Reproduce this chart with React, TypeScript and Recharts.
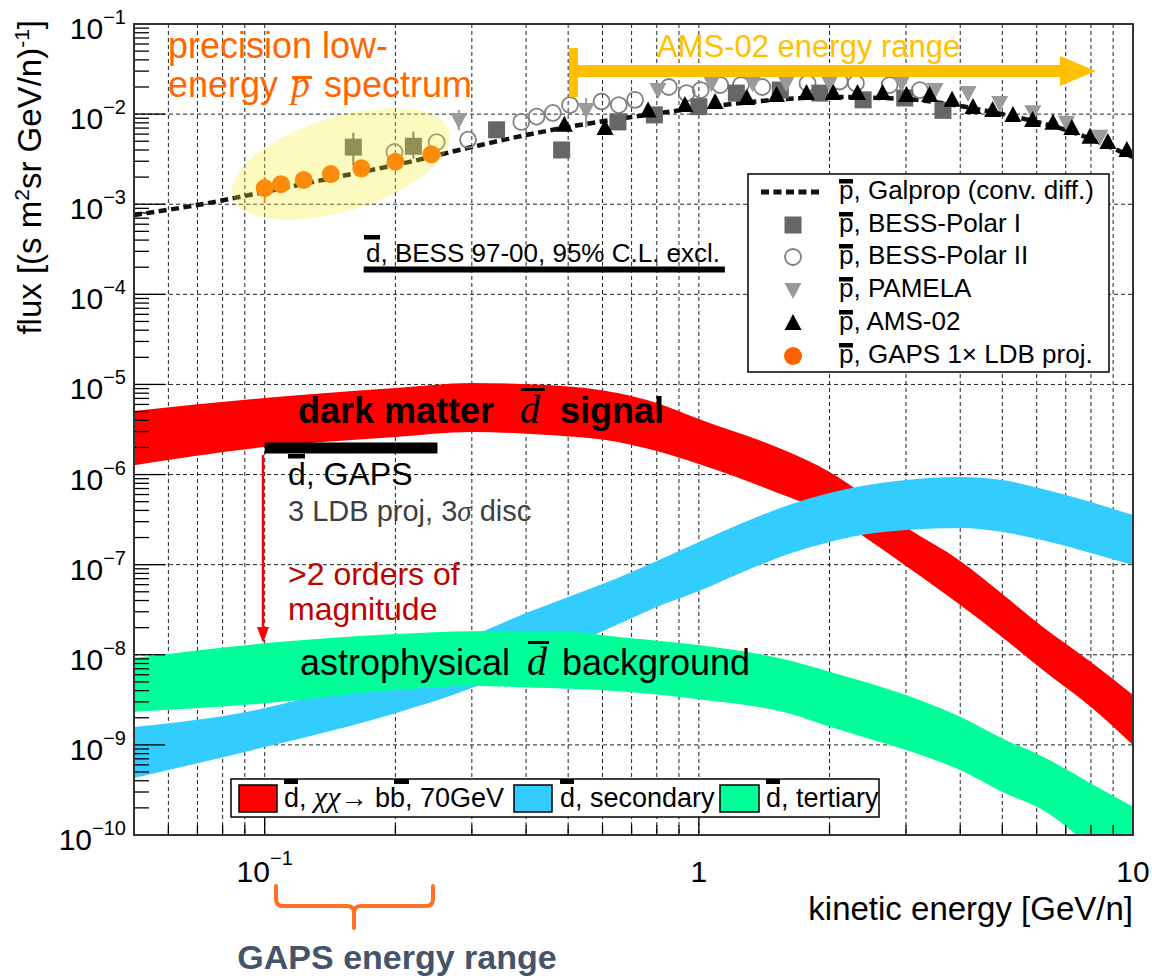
import React from "react";
import { ComposedChart, XAxis, YAxis, CartesianGrid, Area, Line, Scatter, ErrorBar } from "recharts";

const W = 1152;
const H = 978;
const FONT = "'Liberation Sans', Arial, Helvetica, sans-serif";
const SERIF = "'Liberation Serif', 'DejaVu Serif', serif";

// ---------- tick values ----------
const xTickValues = [0.06, 0.07, 0.08, 0.09, 0.1, 0.2, 0.3, 0.4, 0.5, 0.6, 0.7, 0.8, 0.9, 1, 2, 3, 4, 5, 6, 7, 8, 9, 10];
const xDecades = [0.1, 1, 10];
const yDecades = [1e-10, 1e-9, 1e-8, 1e-7, 1e-6, 1e-5, 1e-4, 1e-3, 1e-2, 1e-1];
const yGridValues = [1e-9, 1e-8, 1e-7, 1e-6, 1e-5, 1e-4, 1e-3, 1e-2];
const yMinorMultipliers = [2, 3, 4, 5, 6, 7, 8, 9];
const yTickValues: number[] = [];
yDecades.forEach((d, i) => {
  yTickValues.push(d);
  if (i < yDecades.length - 1) yMinorMultipliers.forEach((m) => yTickValues.push(d * m));
});

// ---------- antiproton data ----------
const galpropE = [0.05, 0.07, 0.1, 0.15, 0.2, 0.3, 0.4, 0.5, 0.7, 1.0, 1.5, 2, 3, 4, 5, 7, 10];
const galpropFlux = [7.6e-4, 9.8e-4, 1.37e-3, 2.05e-3, 2.72e-3, 4.31e-3, 5.86e-3, 7.19e-3, 9.29e-3, 1.17e-2, 1.44e-2, 1.55e-2, 1.47e-2, 1.23e-2, 1.0e-2, 6.67e-3, 3.34e-3];

const bess1E = [0.16, 0.22, 0.342, 0.483, 0.651, 0.79, 1.0, 1.22, 1.54, 1.9, 2.39, 2.98, 3.65];
const bess1Flux = [4.3e-3, 4.4e-3, 6.7e-3, 4.0e-3, 8.2e-3, 9.8e-3, 1.21e-2, 1.71e-2, 1.85e-2, 1.71e-2, 1.44e-2, 1.51e-2, 1.1e-2];
const bess1Err = [[1.6e-3, 1.9e-3], [1.2e-3, 2.0e-3], [0, 0], [0.6e-3, 0.6e-3], [0, 0], [0, 0], [0, 0], [0, 0], [0, 0], [0, 0], [0, 0], [0, 0], [0, 0]];

const bess2E = [0.199, 0.249, 0.294, 0.39, 0.423, 0.461, 0.505, 0.597, 0.654, 0.713, 0.853, 0.937, 1.01, 1.12, 1.25, 1.4, 1.78, 2.11, 2.3, 2.75, 3.23];
const bess2Flux = [3.8e-3, 4.9e-3, 5.2e-3, 8.2e-3, 9.4e-3, 1.03e-2, 1.26e-2, 1.38e-2, 1.26e-2, 1.44e-2, 2.0e-2, 1.71e-2, 1.85e-2, 2.1e-2, 2.1e-2, 2.0e-2, 2.2e-2, 2.3e-2, 2.2e-2, 2.1e-2, 1.85e-2];

const pamelaE = [0.28, 0.55, 0.805, 1.07, 1.33, 1.59, 2.0, 2.93, 3.5, 4.17, 4.93, 5.88, 7.03, 8.39];
const pamelaFlux = [8.6e-3, 1.11e-2, 1.85e-2, 2.2e-2, 2.2e-2, 2.2e-2, 2.2e-2, 2.2e-2, 1.85e-2, 1.71e-2, 1.33e-2, 1.05e-2, 8.0e-3, 5.6e-3];
const pamelaErr = [[2.0e-3, 2.5e-3], [4.0e-3, 4.0e-3], [0, 0], [0, 0], [0, 0], [0, 0], [0, 0], [0, 0], [0, 0], [0, 0], [0, 0], [0, 0], [0, 0], [0, 0]];

const amsE = [0.49, 0.608, 0.764, 0.929, 1.09, 1.29, 1.51, 1.77, 2.04, 2.32, 2.65, 3.01, 3.4, 3.83, 4.28, 4.75, 5.29, 5.87, 6.54, 7.23, 7.96, 8.75, 9.68];
const amsFlux = [7.6e-3, 7.0e-3, 1.1e-2, 1.26e-2, 1.36e-2, 1.51e-2, 1.63e-2, 1.71e-2, 1.71e-2, 1.71e-2, 1.71e-2, 1.63e-2, 1.63e-2, 1.44e-2, 1.2e-2, 1.11e-2, 9.8e-3, 8.6e-3, 8.0e-3, 7.0e-3, 5.6e-3, 4.9e-3, 4.0e-3];

const gapsPE = [0.1, 0.109, 0.123, 0.142, 0.167, 0.2, 0.242];
const gapsPFlux = [1.51e-3, 1.67e-3, 1.86e-3, 2.16e-3, 2.5e-3, 2.96e-3, 3.58e-3];
const gapsPErr = [[0.48e-3, 0.49e-3], [0, 0], [0, 0], [0, 0], [0, 0], [0, 0], [0, 0]];

// ---------- antideuteron limits ----------
const bessLimitE = [0.169, 1.148];
const bessLimitFlux = [1.89e-4, 1.89e-4];
const gapsLimitE = [0.1, 0.25];
const gapsLimitFlux = [1.97e-6, 1.97e-6];

// ---------- antideuteron bands ----------
const dmE = [0.05, 0.1, 0.2, 0.3, 0.45, 0.65, 0.8, 1.0, 1.61, 2.0, 2.37, 3.0, 4.0, 5.0, 6.2, 8.0, 10];
const dmLow = [1.27e-6, 2.02e-6, 2.61e-6, 2.96e-6, 2.74e-6, 2.3e-6, 1.82e-6, 1.31e-6, 5.62e-7, 3.65e-7, 2.13e-7, 9.64e-8, 3.56e-8, 1.57e-8, 6.76e-9, 2.63e-9, 9.95e-10];
const dmHigh = [5.07e-6, 7.06e-6, 9.12e-6, 1.04e-5, 9.85e-6, 8.03e-6, 6.22e-6, 4.13e-6, 1.78e-6, 1.07e-6, 6.24e-7, 2.61e-7, 1.1e-7, 4.72e-8, 2.03e-8, 8.3e-9, 3.57e-9];

const secE = [0.05, 0.1, 0.2, 0.3, 0.4, 0.5, 0.6, 0.7, 0.8, 1.0, 1.31, 1.61, 2.0, 2.37, 3.0, 4.0, 5.0, 6.2, 8.0, 10];
const secLow = [4.28e-10, 9.46e-10, 2.25e-9, 4.27e-9, 7.89e-9, 1.25e-8, 1.83e-8, 2.55e-8, 3.38e-8, 5.09e-8, 8.93e-8, 1.31e-7, 1.78e-7, 2.13e-7, 2.42e-7, 2.55e-7, 2.3e-7, 1.87e-7, 1.35e-7, 9.9e-8];
const secHigh = [1.58e-9, 2.56e-9, 7.11e-9, 1.61e-8, 2.9e-8, 4.37e-8, 6.09e-8, 8.28e-8, 1.1e-7, 1.78e-7, 3.13e-7, 4.59e-7, 6.24e-7, 7.45e-7, 8.69e-7, 9.38e-7, 8.69e-7, 6.9e-7, 4.95e-7, 3.55e-7];

const terE = [0.05, 0.1, 0.2, 0.3, 0.45, 0.7, 1.0, 1.61, 2.0, 3.0, 4.0, 5.0, 6.2, 8.0, 10];
const terLow = [2.33e-9, 2.89e-9, 4.06e-9, 4.5e-9, 4.27e-9, 3.85e-9, 3.22e-9, 2.24e-9, 1.59e-9, 8.75e-10, 5.25e-10, 3.01e-10, 1.89e-10, 7.7e-11, 4.1e-11];
const terHigh = [9.2e-9, 1.34e-8, 1.7e-8, 1.83e-8, 1.84e-8, 1.53e-8, 1.28e-8, 8.7e-9, 6.5e-9, 3.57e-9, 2.05e-9, 1.18e-9, 7.4e-10, 3.74e-10, 2.06e-10];

// ---------- tables built from the arrays ----------
const pts = (xs: number[], ys: number[], errs?: number[][]) =>
  xs.map((x, i) => (errs ? { x, y: ys[i], err: errs[i] } : { x, y: ys[i] }));
const band = (xs: number[], lo: number[], hi: number[]) => xs.map((x, i) => ({ x, r: [lo[i], hi[i]] }));

const galpropData = pts(galpropE, galpropFlux);
const bess1Data = pts(bess1E, bess1Flux, bess1Err);
const bess2Data = pts(bess2E, bess2Flux);
const pamelaData = pts(pamelaE, pamelaFlux, pamelaErr);
const amsData = pts(amsE, amsFlux);
const gapsPData = pts(gapsPE, gapsPFlux, gapsPErr);
const bessLimitData = pts(bessLimitE, bessLimitFlux);
const gapsLimitData = pts(gapsLimitE, gapsLimitFlux);
const dmData = band(dmE, dmLow, dmHigh);
const secData = band(secE, secLow, secHigh);
const terData = band(terE, terLow, terHigh);

// ---------- colours ----------
const RED = "#ff0000";
const BLUE = "#33ccff";
const GREEN = "#00ff99";
const ORANGE = "#ff6600";
const AMBER = "#ffc000";

// ---------- marker shapes ----------
const SquareShape = (p: any) => <rect x={p.cx - 8.5} y={p.cy - 8.5} width={17} height={17} fill="#666666" />;
const OpenCircleShape = (p: any) => <circle cx={p.cx} cy={p.cy} r={8} fill="none" stroke="#808080" strokeWidth={1.8} />;
const TriDownShape = (p: any) => (
  <polygon points={`${p.cx - 8.5},${p.cy - 7} ${p.cx + 8.5},${p.cy - 7} ${p.cx},${p.cy + 9}`} fill="#9a9a9a" />
);
const TriUpShape = (p: any) => (
  <polygon points={`${p.cx - 8.5},${p.cy + 7} ${p.cx + 8.5},${p.cy + 7} ${p.cx},${p.cy - 9}`} fill="#000000" />
);
const OrangeDotShape = (p: any) => <circle cx={p.cx} cy={p.cy} r={9} fill="#ff6000" />;

// ---------- ticks ----------
const isDecade = (v: number) => {
  const k = Math.round(Math.log10(v));
  return Math.abs(v / Math.pow(10, k) - 1) < 1e-6;
};

const YTick = (props: any) => {
  const { x, y, payload } = props;
  const v = payload.value;
  const major = isDecade(v);
  const k = Math.round(Math.log10(v));
  return (
    <g>
      <line x1={x} x2={x + (major ? 31 : 15)} y1={y} y2={y} stroke="#000" strokeWidth={1.3} />
      {major && (
        <text x={x - 8} y={y + 15} textAnchor="end" fontSize={30} fontFamily={FONT} fill="#000">
          10
          <tspan dy={-15} fontSize={20}>{"\u2212" + -k}</tspan>
        </text>
      )}
    </g>
  );
};

const XTick = (props: any) => {
  const { x, y, payload } = props;
  const v = payload.value;
  const major = xDecades.some((d) => Math.abs(d - v) < 1e-9);
  const k = Math.round(Math.log10(v));
  return (
    <g>
      <line x1={x} x2={x} y1={y} y2={y - (major ? 20 : 10)} stroke="#000" strokeWidth={1.3} />
      {major && (
        <text x={x} y={y + 47} textAnchor="middle" fontSize={30} fontFamily={FONT} fill="#000">
          {k === 0 ? "1" : "10"}
          {k < 0 && <tspan dy={-17} fontSize={20}>{"\u2212" + -k}</tspan>}
        </text>
      )}
    </g>
  );
};

// ---------- overlay helpers ----------
const OB = ({ x, y, w, h = 4.5 }: { x: number; y: number; w: number; h?: number }) => (
  <rect x={x} y={y} width={w} height={h} fill="#000" />
);

const legendRows = [
  { label: "p, Galprop (conv. diff.)", sym: "line", cy: 192 },
  { label: "p, BESS-Polar I", sym: "square", cy: 225 },
  { label: "p, BESS-Polar II", sym: "circle", cy: 257 },
  { label: "p, PAMELA", sym: "tdown", cy: 290 },
  { label: "p, AMS-02", sym: "tup", cy: 323 },
  { label: "p, GAPS 1\u00d7 LDB proj.", sym: "dot", cy: 356 },
];

const LegendSymbol = ({ sym, cy }: { sym: string; cy: number }) => {
  const cx = 793;
  if (sym === "line") return <line x1={761} x2={819} y1={cy} y2={cy} stroke="#111" strokeWidth={5} strokeDasharray="8 4.5" />;
  if (sym === "square") return <SquareShape cx={cx} cy={cy} />;
  if (sym === "circle") return <OpenCircleShape cx={cx} cy={cy} />;
  if (sym === "tdown") return <TriDownShape cx={cx} cy={cy} />;
  if (sym === "tup") return <TriUpShape cx={cx} cy={cy} />;
  return <OrangeDotShape cx={cx} cy={cy} />;
};

const Overlay = () => (
  <svg width={W} height={H} style={{ position: "absolute", left: 0, top: 0, pointerEvents: "none" }} fontFamily={FONT}>
    {/* highlight ellipse */}
    <ellipse cx={341} cy={164} rx={113} ry={47} transform="rotate(-17 341 164)" fill="rgb(245,238,40)" fillOpacity={0.3} />

    {/* frame */}
    <rect x={134} y={24} width={999} height={811} fill="none" stroke="#333" strokeWidth={2} />

    {/* y title */}
    <text transform="translate(41,20) rotate(-90)" textAnchor="end" fontSize={33} fill="#000">
      flux [(s m<tspan dy={-12} fontSize={21}>2</tspan>
      <tspan dy={12}>sr GeV/n)</tspan>
      <tspan dy={-12} fontSize={21}>-1</tspan>
      <tspan dy={12}>]</tspan>
    </text>
    {/* x title */}
    <text x={1133} y={920} textAnchor="end" fontSize={33} fill="#000">kinetic energy [GeV/n]</text>

    {/* precision low-energy text */}
    <text x={168} y={58} fontSize={36} fill={ORANGE}>precision low-</text>
    <text x={168} y={97} fontSize={36} fill={ORANGE}>energy</text>
    <text x={291} y={97} fontSize={38} fill={ORANGE} fontFamily={SERIF} fontStyle="italic">p</text>
    <rect x={292} y={76} width={20} height={3} fill={ORANGE} />
    <text x={324} y={97} fontSize={36} fill={ORANGE}>spectrum</text>

    {/* AMS-02 energy range */}
    <text x={657} y={57} fontSize={31} fill={AMBER}>AMS-02 energy range</text>
    <rect x={569} y={48} width={9} height={49} fill={AMBER} />
    <rect x={573} y={65} width={490} height={12} fill={AMBER} />
    <polygon points="1060,56 1096,71 1060,86" fill={AMBER} />

    {/* BESS limit label */}
    <text x={366} y={262} fontSize={26} fill="#000">d, BESS 97-00, 95% C.L. excl.</text>
    <OB x={364} y={235} w={16} />

    {/* p-bar legend */}
    <rect x={748} y={174} width={361} height={198} fill="#fff" stroke="#000" strokeWidth={1.5} />
    {legendRows.map((r) => (
      <g key={r.label}>
        <LegendSymbol sym={r.sym} cy={r.cy} />
        <text x={839} y={r.cy + 7} fontSize={26} fill="#000">{r.label}</text>
        <OB x={839} y={r.cy - 13} w={14} />
      </g>
    ))}

    {/* dark matter signal label */}
    <text x={298} y={423} fontSize={36} fontWeight="bold" fill="#000">dark matter</text>
    <text x={520} y={423} fontSize={40} fontFamily={SERIF} fontStyle="italic" fill="#000">d</text>
    <rect x={521} y={388} width={24} height={3} fill="#000" />
    <text x={560} y={423} fontSize={36} fontWeight="bold" fill="#000">signal</text>

    {/* GAPS sensitivity label */}
    <text x={288} y={485} fontSize={32} fill="#000">d, GAPS</text>
    <OB x={288} y={454} w={17} />
    <text x={288} y={521} fontSize={29} fill="#404040">
      3 LDB proj, 3<tspan fontFamily={SERIF} fontStyle="italic">{"\u03c3"}</tspan> disc
    </text>

    {/* orders of magnitude */}
    <line x1={263} x2={263} y1={455} y2={630} stroke={RED} strokeWidth={2.5} />
    <polygon points="257,627 269,627 263,643" fill={RED} />
    <text x={288} y={585} fontSize={32} fill="#c00000">&gt;2 orders of</text>
    <text x={288} y={620} fontSize={32} fill="#c00000">magnitude</text>

    {/* astrophysical background label */}
    <text x={300} y={675} fontSize={36} fill="#000">astrophysical</text>
    <text x={527} y={675} fontSize={40} fontFamily={SERIF} fontStyle="italic" fill="#000">d</text>
    <rect x={528} y={641} width={21} height={3} fill="#000" />
    <text x={562} y={675} fontSize={36} fill="#000">background</text>

    {/* antideuteron legend */}
    <rect x={231} y={779} width={648} height={38} fill="#fff" stroke="#000" strokeWidth={1.5} />
    <rect x={239} y={785} width={38} height={27} fill={RED} stroke="#000" strokeWidth={1.5} />
    <text x={284} y={807} fontSize={27} fill="#000">
      d, <tspan fontFamily={SERIF} fontStyle="italic" fontSize={30}>{"\u03c7\u03c7"}</tspan>{"\u2192 bb, 70GeV"}
    </text>
    <OB x={284} y={779} w={14} h={5} />
    <OB x={394} y={779} w={15} h={5} />
    <rect x={514} y={785} width={38} height={27} fill={BLUE} stroke="#000" strokeWidth={1.5} />
    <text x={560} y={807} fontSize={27} fill="#000">d, secondary</text>
    <OB x={560} y={779} w={14} h={5} />
    <rect x={720} y={785} width={39} height={27} fill={GREEN} stroke="#000" strokeWidth={1.5} />
    <text x={766} y={807} fontSize={27} fill="#000">d, tertiary</text>
    <OB x={766} y={779} w={14} h={5} />

    {/* GAPS energy range brace */}
    <path
      d="M 276 886 L 276 899 Q 276 906 283 906 L 347 906 Q 354 906 354 913 L 354 928 M 354 913 Q 354 906 361 906 L 426 906 Q 433 906 433 899 L 433 886"
      fill="none"
      stroke="#ff7020"
      strokeWidth={4}
      strokeLinecap="round"
    />
    <text x={397} y={969} textAnchor="middle" fontSize={34} fontWeight="bold" fill="#44546a">GAPS energy range</text>
  </svg>
);

export default function App() {
  return (
    <div style={{ position: "absolute", left: 0, top: 0, width: W, height: H, background: "#fff", fontFamily: FONT }}>
      <ComposedChart width={W} height={H} margin={{ top: 24, right: 19, bottom: 0, left: 0 }}>
        <CartesianGrid
          stroke="#222"
          strokeWidth={1}
          strokeDasharray="4 3"
          horizontalValues={yGridValues}
          verticalValues={xTickValues}
        />
        <XAxis
          dataKey="x"
          type="number"
          scale="log"
          domain={[0.05, 10]}
          allowDataOverflow
          ticks={xTickValues}
          interval={0}
          height={143}
          tickSize={0}
          tickMargin={0}
          tickLine={false}
          axisLine={false}
          tick={<XTick />}
        />
        <YAxis
          type="number"
          scale="log"
          domain={[1e-10, 1e-1]}
          allowDataOverflow
          ticks={yTickValues}
          interval={0}
          width={134}
          tickSize={0}
          tickMargin={0}
          tickLine={false}
          axisLine={false}
          tick={<YTick />}
        />
        <Area data={dmData} dataKey="r" type="monotone" fill={RED} fillOpacity={1} stroke="none" isAnimationActive={false} />
        <Area data={secData} dataKey="r" type="monotone" fill={BLUE} fillOpacity={1} stroke="none" isAnimationActive={false} />
        <Area data={terData} dataKey="r" type="monotone" fill={GREEN} fillOpacity={1} stroke="none" isAnimationActive={false} />
        <Line data={galpropData} dataKey="y" type="monotone" stroke="#111" strokeWidth={4.5} strokeDasharray="8 4.5" dot={false} isAnimationActive={false} />
        <Line data={bessLimitData} dataKey="y" type="linear" stroke="#000" strokeWidth={6} dot={false} isAnimationActive={false} />
        <Line data={gapsLimitData} dataKey="y" type="linear" stroke="#000" strokeWidth={11} dot={false} isAnimationActive={false} />
        <Scatter data={bess2Data} dataKey="y" shape={OpenCircleShape} isAnimationActive={false} />
        <Scatter data={bess1Data} dataKey="y" shape={SquareShape} isAnimationActive={false}>
          <ErrorBar dataKey="err" direction="y" width={0} stroke="#666" strokeWidth={2} />
        </Scatter>
        <Scatter data={pamelaData} dataKey="y" shape={TriDownShape} isAnimationActive={false}>
          <ErrorBar dataKey="err" direction="y" width={0} stroke="#9a9a9a" strokeWidth={2} />
        </Scatter>
        <Scatter data={amsData} dataKey="y" shape={TriUpShape} isAnimationActive={false} />
        <Scatter data={gapsPData} dataKey="y" shape={OrangeDotShape} isAnimationActive={false}>
          <ErrorBar dataKey="err" direction="y" width={0} stroke="#ff6000" strokeWidth={2} />
        </Scatter>
      </ComposedChart>
      <Overlay />
    </div>
  );
}
